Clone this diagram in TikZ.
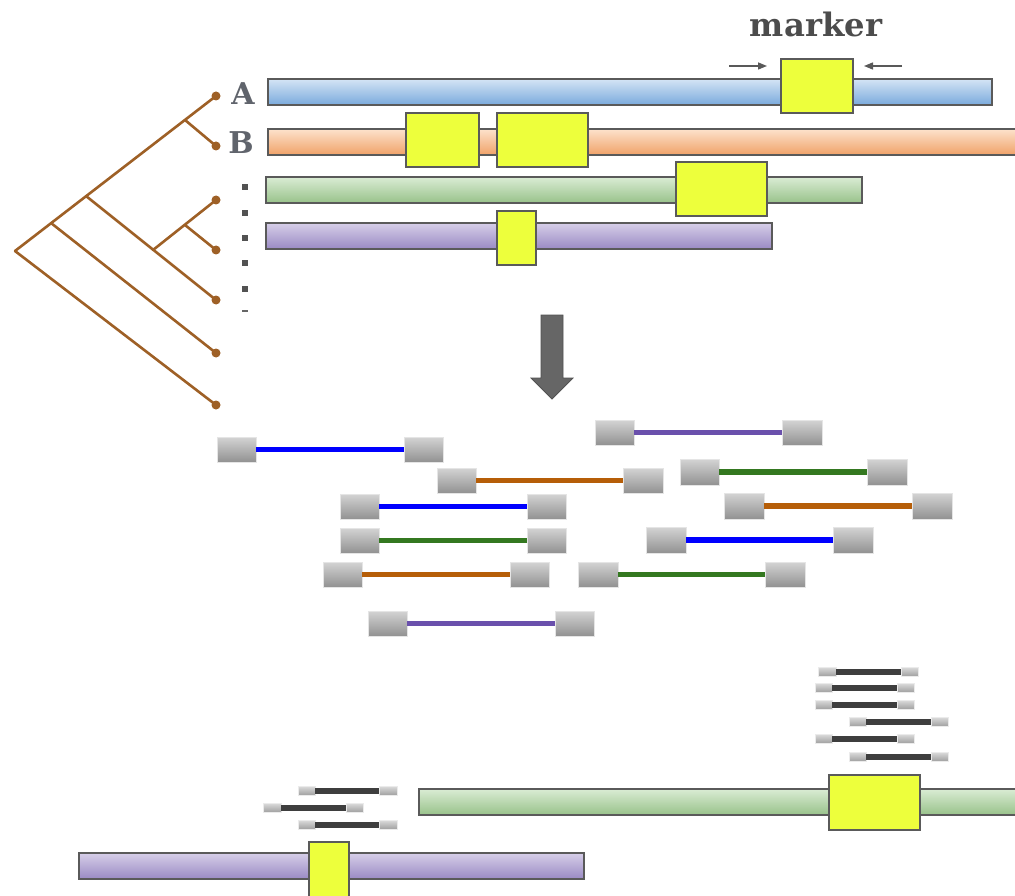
\documentclass[tikz,border=0pt]{standalone}
\usepackage{fontspec}
\newfontfamily\slabfont{DejaVu Serif}
\usetikzlibrary{arrows.meta}
\definecolor{treebrown}{RGB}{158,96,38}
\definecolor{barborder}{RGB}{90,90,90}
\definecolor{mkyellow}{RGB}{237,255,60}
\definecolor{blueT}{RGB}{212,228,245}\definecolor{blueB}{RGB}{122,170,220}
\definecolor{orT}{RGB}{253,226,204}\definecolor{orB}{RGB}{240,162,104}
\definecolor{grT}{RGB}{218,236,212}\definecolor{grB}{RGB}{152,194,138}
\definecolor{puT}{RGB}{214,206,232}\definecolor{puB}{RGB}{154,138,196}
\definecolor{rdblue}{RGB}{0,0,255}
\definecolor{rdorange}{RGB}{182,94,8}
\definecolor{rdgreen}{RGB}{52,120,32}
\definecolor{rdpurple}{RGB}{106,80,172}
\definecolor{rddark}{RGB}{62,62,62}
\definecolor{labgray}{RGB}{96,100,108}
\newcommand\mybox[6]{%
 \pgfmathsetmacro\myxc{(#3+#5)/2}\pgfmathsetmacro\myyc{-(#4+#6)/2}%
 \pgfmathsetmacro\myww{#5-#3}\pgfmathsetmacro\myhh{#6-#4}%
 \node[#1, minimum width=\myww pt, minimum height=\myhh pt] (#2) at (\myxc,\myyc) {};}
% read pair: name, xL1, xL2, xR1, xR2, y1, y2, colour
\newcommand\readpair[8]{%
 \mybox{grayblock}{#1l}{#2}{#6}{#3}{#7}%
 \mybox{grayblock}{#1r}{#4}{#6}{#5}{#7}%
 \draw[readline,#8] (#1l.east) -- (#1r.west);}
% short read: name, xL, xa, xb, xR, y
\newcommand\shortread[6]{%
 \pgfmathsetmacro\mya{#6-4.5}\pgfmathsetmacro\myb{#6+4.5}%
 \mybox{smallblock}{#1l}{#2}{\mya}{#3}{\myb}%
 \mybox{smallblock}{#1r}{#4}{\mya}{#5}{\myb}%
 \draw[shortline] (#1l.east) -- (#1r.west);}
\tikzset{
 bar/.style={draw=barborder, line width=1.8pt, inner sep=0pt, outer sep=0pt, rectangle},
 bluebar/.style={bar, top color=blueT, bottom color=blueB},
 orbar/.style={bar, top color=orT, bottom color=orB},
 grbar/.style={bar, top color=grT, bottom color=grB},
 pubar/.style={bar, top color=puT, bottom color=puB},
 marker/.style={draw=barborder, line width=1.8pt, fill=mkyellow, inner sep=0pt, outer sep=0pt, rectangle},
 grayblock/.style={draw=black!10, line width=0.8pt, top color=black!17, bottom color=black!43, inner sep=0pt, outer sep=0pt, rectangle},
 smallblock/.style={draw=black!8, line width=0.5pt, top color=black!15, bottom color=black!38, inner sep=0pt, outer sep=0pt, rectangle},
 readline/.style={line width=5.5pt},
 shortline/.style={line width=5.5pt, rddark},
 branch/.style={treebrown, line width=2.6pt, line cap=round},
 leafdot/.style={circle, fill=treebrown, inner sep=0pt, minimum size=9pt},
 lab/.style={font=\slabfont\bfseries\fontsize{30}{31}\selectfont, text=labgray, inner sep=0pt},
 dotsq/.style={fill=black!68, inner sep=0pt, minimum size=6pt, rectangle},
 pointer/.style={black!65, line width=1.4pt, -{Triangle[length=9pt,width=7pt]}},
}
\begin{document}
\begin{tikzpicture}[x=1pt,y=1pt]
\useasboundingbox (0,0) rectangle (1015,-896);
\fill[white] (0,0) rectangle (1015,-896);

% ---- tree ----
\coordinate (root) at (15,-251);
\node[leafdot] (la) at (216,-96) {};
\node[leafdot] (lb) at (216,-146) {};
\node[leafdot] (lc) at (216,-200) {};
\node[leafdot] (ld) at (216,-250) {};
\node[leafdot] (le) at (216,-300) {};
\node[leafdot] (lf) at (216,-353) {};
\node[leafdot] (lg) at (216,-405) {};
\coordinate (n1) at (185,-120);
\coordinate (n2) at (86,-196);
\coordinate (n3) at (51,-223);
\coordinate (n4) at (153,-250);
\coordinate (n5) at (185,-225);
\draw[branch] (root) -- (la.center);
\draw[branch] (n1) -- (lb.center);
\draw[branch] (n2) -- (le.center);
\draw[branch] (n4) -- (lc.center);
\draw[branch] (n5) -- (ld.center);
\draw[branch] (n3) -- (lf.center);
\draw[branch] (root) -- (lg.center);

% ---- labels and dots ----
\node[lab] (labA) at (243,-94) {A};
\node[lab] (labB) at (241,-143) {B};
\node[dotsq] (d1) at (245,-187) {};
\node[dotsq] (d2) at (245,-213) {};
\node[dotsq] (d3) at (245,-238) {};
\node[dotsq] (d4) at (245,-263) {};
\node[dotsq] (d5) at (245,-289) {};
\node[fill=black!60, inner sep=0pt, minimum width=6pt, minimum height=1.5pt] (d6) at (245,-311) {};

% ---- top chromosomes ----
\mybox{bluebar}{barA}{268}{79}{992}{105}
\mybox{orbar}{barB}{268}{129}{1022}{155}
\mybox{grbar}{barC}{266}{177}{862}{203}
\mybox{pubar}{barD}{266}{223}{772}{249}
\mybox{marker}{mkA}{781}{59}{853}{113}
\mybox{marker}{mkB1}{406}{113}{479}{167}
\mybox{marker}{mkB2}{497}{113}{588}{167}
\mybox{marker}{mkC}{676}{162}{767}{216}
\mybox{marker}{mkD}{497}{211}{536}{265}

\node[font=\slabfont\bfseries, text=black!70, inner sep=0pt] (mktext) at (816,-24) {\resizebox{132pt}{!}{marker}};
\coordinate (pl) at (729,-66);
\coordinate (pr) at (902,-66);
\draw[pointer, shorten >=14pt] (pl) -- (pl -| mkA.west);
\draw[pointer, shorten >=11pt] (pr) -- (pr -| mkA.east);

% ---- big arrow ----
\draw[fill=black!60, draw=black!68, line width=0.8pt, line join=miter]
 (541,-315) -- (563,-315) -- (563,-378) -- (573,-378) -- (552,-399) -- (531,-378) -- (541,-378) -- cycle;

% ---- read pairs ----
\readpair{p1}{217}{256}{404}{443}{437}{462}{rdblue}
\readpair{p2}{437}{476}{623}{663}{468}{493}{rdorange}
\readpair{p3}{340}{379}{527}{566}{494}{519}{rdblue}
\readpair{p4}{340}{379}{527}{566}{528}{553}{rdgreen}
\readpair{p5}{323}{362}{510}{549}{562}{587}{rdorange}
\readpair{p6}{368}{407}{555}{594}{611}{636}{rdpurple}
\readpair{p7}{595}{634}{782}{822}{420}{445}{rdpurple}
\readpair{p8}{680}{719}{867}{907}{459}{485}{rdgreen}
\readpair{p9}{724}{764}{912}{952}{493}{519}{rdorange}
\readpair{p10}{646}{686}{833}{873}{527}{553}{rdblue}
\readpair{p11}{578}{618}{765}{805}{562}{587}{rdgreen}

% ---- bottom ----
\shortread{r1}{818}{836}{901}{918}{672}
\shortread{r2}{815}{832}{897}{914}{688}
\shortread{r3}{815}{832}{897}{914}{705}
\shortread{r4}{849}{866}{931}{948}{722}
\shortread{r5}{815}{832}{897}{914}{739}
\shortread{r6}{849}{866}{931}{948}{757}

\shortread{s1}{298}{315}{379}{397}{791}
\shortread{s2}{263}{281}{346}{363}{808}
\shortread{s3}{298}{315}{379}{397}{825}

\mybox{grbar}{barE}{419}{789}{1022}{815}
\mybox{pubar}{barF}{79}{853}{584}{879}
\mybox{marker}{mkE}{829}{775}{920}{830}
\mybox{marker}{mkF}{309}{842}{349}{902}
\end{tikzpicture}
\end{document}
